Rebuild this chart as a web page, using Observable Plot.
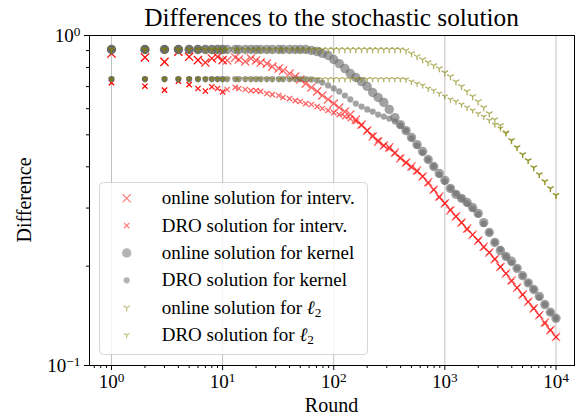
<!DOCTYPE html>
<html><head><meta charset="utf-8">
<script src="https://cdn.jsdelivr.net/npm/d3@7"></script>
<script src="https://cdn.jsdelivr.net/npm/@observablehq/plot@0.6"></script>
<style>body{margin:0;background:#fff} svg{display:block}</style>
</head><body><div id="chart"></div>
<script>
const rounds = [1,2,3,4,5,6,7,8,9,10, 11,13,14,16,18,20,22,25,28,32,
  35,40,45,50,56,63,71,79,89,100, 112,126,141,158,178,200,224,251,282,316,
  355,398,447,501,562,631,708,794,891,1000, 1122,1259,1413,1585,1778,1995,2239,2512,2818,3162,
  3548,3981,4467,5012,5623,6310,7079,7943,8913,10000];
// how many times each early round is drawn (overlapping markers)
const repeats = [12,7,5,4,3,3,2,2,2,2];

const onlineInterv = [0.882,0.858,0.832,0.893,0.862,0.842,0.828,0.852,0.862,0.842,
  0.840,0.858,0.846,0.834,0.852,0.840,0.828,0.822,0.805,0.794,
  0.783,0.767,0.751,0.736,0.715,0.696,0.677,0.658,0.640,0.622,
  0.605,0.588,0.576,0.556,0.537,0.515,0.494,0.477,0.464,0.458,
  0.442,0.424,0.412,0.401,0.390,0.374,0.359,0.341,0.325,0.310,
  0.295,0.283,0.271,0.260,0.249,0.239,0.229,0.220,0.210,0.199,
  0.190,0.181,0.172,0.164,0.156,0.149,0.142,0.135,0.128,0.122];
const droInterv = [0.720,0.702,0.683,0.727,0.710,0.691,0.678,0.699,0.691,0.675,
  0.686,0.696,0.691,0.686,0.681,0.681,0.677,0.667,0.662,0.658,
  0.649,0.644,0.635,0.631,0.622,0.618,0.609,0.601,0.593,0.584,
  0.576,0.568,0.560,0.549,0.534,0.515,0.498,0.481,0.464,0.454,
  0.439,0.427,0.412,0.398,0.387,0.374,0.356,0.341,0.323,0.310,
  0.297,0.283,0.271,0.258,0.249,0.239,0.228,0.220,0.210,0.199,
  0.190,0.180,0.172,0.164,0.156,0.149,0.142,0.134,0.128,0.122];
const onlineKernel = [0.907,0.907,0.907,0.907,0.907,0.907,0.907,0.907,0.907,0.907,
  0.907,0.907,0.907,0.907,0.907,0.907,0.907,0.907,0.907,0.907,
  0.907,0.907,0.907,0.907,0.907,0.901,0.894,0.882,0.870,0.846,
  0.822,0.794,0.767,0.746,0.725,0.701,0.672,0.649,0.627,0.597,
  0.564,0.537,0.515,0.491,0.467,0.445,0.421,0.401,0.382,0.364,
  0.344,0.330,0.321,0.312,0.301,0.289,0.271,0.253,0.236,0.223,
  0.214,0.207,0.197,0.187,0.178,0.170,0.162,0.153,0.145,0.139];
const droKernel = [0.738,0.738,0.738,0.738,0.738,0.738,0.738,0.738,0.738,0.738,
  0.738,0.738,0.738,0.738,0.738,0.738,0.738,0.738,0.738,0.738,
  0.738,0.738,0.738,0.738,0.738,0.736,0.731,0.720,0.706,0.691,
  0.677,0.658,0.640,0.622,0.609,0.597,0.588,0.576,0.568,0.560,
  0.549,0.534,0.515,0.488,0.464,0.442,0.421,0.401,0.379,0.361,
  0.344,0.332,0.321,0.310,0.299,0.287,0.269,0.253,0.236,0.225,
  0.214,0.205,0.197,0.187,0.178,0.170,0.161,0.153,0.145,0.139];
const onlineL2 = [0.907,0.907,0.907,0.907,0.907,0.907,0.907,0.907,0.907,0.907,
  0.907,0.907,0.907,0.907,0.907,0.907,0.907,0.907,0.907,0.907,
  0.907,0.907,0.907,0.907,0.907,0.907,0.907,0.907,0.907,0.907,
  0.907,0.907,0.907,0.907,0.907,0.907,0.907,0.907,0.907,0.907,
  0.907,0.907,0.901,0.882,0.864,0.846,0.828,0.811,0.794,0.772,
  0.751,0.725,0.701,0.677,0.654,0.631,0.605,0.580,0.556,0.534,
  0.508,0.481,0.458,0.436,0.418,0.398,0.379,0.361,0.344,0.328];
const droL2 = [0.738,0.738,0.738,0.738,0.738,0.738,0.738,0.738,0.738,0.738,
  0.738,0.738,0.738,0.738,0.738,0.738,0.738,0.738,0.738,0.738,
  0.738,0.738,0.738,0.738,0.738,0.738,0.738,0.738,0.738,0.738,
  0.738,0.738,0.738,0.738,0.738,0.738,0.738,0.738,0.738,0.738,
  0.738,0.738,0.736,0.725,0.715,0.706,0.691,0.681,0.667,0.654,
  0.640,0.631,0.618,0.605,0.593,0.580,0.568,0.553,0.537,0.523,
  0.505,0.481,0.458,0.436,0.418,0.398,0.379,0.361,0.344,0.328];

const xMajorTicks = [1, 10, 100, 1000, 10000];
const xMinorTicks = [0.7,0.8,0.9, 2,3,4,5,6,7,8,9, 20,30,40,50,60,70,80,90,
  200,300,400,500,600,700,800,900, 2000,3000,4000,5000,6000,7000,8000,9000];
const yMajorTicks = [0.1, 1];
const yMinorTicks = [0.2,0.3,0.4,0.5,0.6,0.7,0.8,0.9];

const titleText = "Differences to the stochastic solution";
const xLabel = "Round";
const yLabel = "Difference";
const seriesLabels = ["online solution for interv.", "DRO solution for interv.",
  "online solution for kernel", "DRO solution for kernel",
  "online solution for ", "DRO solution for "];

const alpha = 0.5;       // legend marker alpha
const plotAlpha = 0.62;  // plotted marker alpha
const rows = rounds.map((r, i) => ({
  round: r,
  op: 1 - Math.pow(1 - plotAlpha, repeats[i] ?? 1),
  onlineInterv: onlineInterv[i], droInterv: droInterv[i],
  onlineKernel: onlineKernel[i], droKernel: droKernel[i],
  onlineL2: onlineL2[i], droL2: droL2[i]
}));

const triDown = {
  draw(ctx, size) {
    const a = Math.sqrt(size / Math.PI);
    ctx.moveTo(0, 0); ctx.lineTo(0, a);
    ctx.moveTo(0, 0); ctx.lineTo(-a * 0.866, -a * 0.5);
    ctx.moveTo(0, 0); ctx.lineTo(a * 0.866, -a * 0.5);
  }
};

const styles = [
  {key: "onlineInterv", symbol: "times", d3sym: d3.symbolTimes, r: 3.8, color: "red", stroke: true},
  {key: "droInterv", symbol: "times", d3sym: d3.symbolTimes, r: 2.5, color: "red", stroke: true},
  {key: "onlineKernel", symbol: "circle", d3sym: d3.symbolCircle, r: 4.7, color: "dimgray", stroke: false},
  {key: "droKernel", symbol: "circle", d3sym: d3.symbolCircle, r: 3.1, color: "dimgray", stroke: false},
  {key: "onlineL2", symbol: triDown, d3sym: triDown, r: 3.8, color: "olive", stroke: true},
  {key: "droL2", symbol: triDown, d3sym: triDown, r: 3.2, color: "olive", stroke: true}
];

const fmt = d => `10^${Math.round(Math.log10(d))}`;

const dotMarks = styles.map(s => s.stroke
  ? Plot.dot(rows, {x: "round", y: s.key, symbol: s.symbol, r: s.r, fill: "none",
      stroke: s.color, strokeOpacity: "op", strokeWidth: 1.3})
  : Plot.dot(rows, {x: "round", y: s.key, symbol: s.symbol, r: s.r, stroke: "none",
      fill: s.color, fillOpacity: "op"}));

const chart = Plot.plot({
  width: 575, height: 419,
  marginLeft: 89, marginRight: 1, marginTop: 35, marginBottom: 54,
  style: {fontFamily: "'Liberation Serif', serif", fontSize: "19px", background: "#fff", color: "#000"},
  x: {type: "log", domain: [0.634, 14680]},
  y: {type: "log", domain: [0.1, 1]},
  marks: [
    Plot.gridX({ticks: xMajorTicks, stroke: "#b0b0b0", strokeOpacity: 1, strokeWidth: 0.8}),
    ...dotMarks,
    Plot.frame({stroke: "#000", strokeWidth: 1}),
    Plot.axisX({ticks: xMajorTicks, tickSize: 5, tickPadding: 4, tickFormat: fmt, label: null, fontSize: 19}),
    Plot.axisX({ticks: xMinorTicks, tickSize: 3, tickFormat: () => "", label: null}),
    Plot.axisY({ticks: yMajorTicks, tickSize: 5, tickPadding: 4, tickFormat: fmt, label: null, fontSize: 19}),
    Plot.axisY({ticks: yMinorTicks, tickSize: 3, tickFormat: () => "", label: null})
  ]
});

document.getElementById("chart").appendChild(chart);
const svg = d3.select(chart);

// superscript exponents on tick labels
svg.selectAll("text").each(function() {
  const m = /^10\^(-?\d+)$/.exec(this.textContent);
  if (m) {
    const el = d3.select(this);
    el.text("10");
    el.append("tspan").attr("dy", "-0.45em").attr("font-size", "0.7em").text(m[1].replace("-", "\u2212"));
  }
});

const serif = "'Liberation Serif', serif";
svg.append("text").attr("x", 331.5).attr("y", 26).attr("text-anchor", "middle")
  .attr("font-family", serif).attr("font-size", 25.3).attr("fill", "#000").text(titleText);
svg.append("text").attr("x", 331.5).attr("y", 412).attr("text-anchor", "middle")
  .attr("font-family", serif).attr("font-size", 20).attr("fill", "#000").text(xLabel);
svg.append("text").attr("transform", "translate(31,200) rotate(-90)").attr("text-anchor", "middle")
  .attr("font-family", serif).attr("font-size", 20).attr("fill", "#000").text(yLabel);

// legend
const lg = svg.append("g").attr("text-anchor", "start");
lg.append("rect").attr("x", 99.5).attr("y", 182.5).attr("width", 268).attr("height", 172)
  .attr("rx", 4).attr("fill", "#fff").attr("fill-opacity", 0.8)
  .attr("stroke", "#cccccc").attr("stroke-opacity", 0.8);
styles.forEach((s, i) => {
  const y = 198.3 + i * 27.35;
  const p = lg.append("path").attr("transform", `translate(126.7,${y})`)
    .attr("d", d3.symbol(s.d3sym, Math.PI * s.r * s.r)());
  if (s.stroke) p.attr("fill", "none").attr("stroke", s.color).attr("stroke-opacity", alpha).attr("stroke-width", 1.2);
  else p.attr("fill", s.color).attr("fill-opacity", alpha);
  const t = lg.append("text").attr("x", 161.7).attr("y", y).attr("dy", "0.32em")
    .attr("text-anchor", "start")
    .attr("font-family", serif).attr("font-size", 19).attr("fill", "#000").text(seriesLabels[i]);
  if (i >= 4) {
    t.append("tspan").attr("font-style", "italic").text("\u2113");
    t.append("tspan").attr("dy", "0.25em").attr("font-size", "0.7em").text("2");
  }
});
</script>
</body></html>
